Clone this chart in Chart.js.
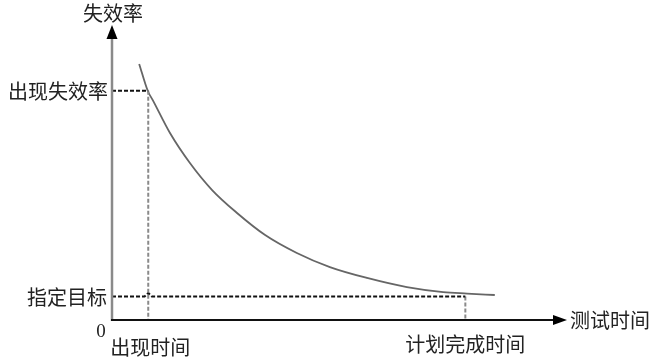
<!DOCTYPE html>
<html>
<head>
<meta charset="utf-8">
<script src="https://cdn.jsdelivr.net/npm/chart.js@4/dist/chart.umd.min.js"></script>
<style>
  html, body { margin: 0; padding: 0; background: #fff; }
  #wrap { width: 659px; height: 361px; position: relative; }
</style>
</head>
<body>
<div id="wrap"><canvas id="chart"></canvas></div>
<script>
// failure rate curve (time / rate in arbitrary units, axis runs 0-100)
const curveTime = [6.0, 7.9, 9.0, 12.8, 17.2, 22.1, 27.6, 33.8, 40.8, 48.1, 56.3, 65.1, 73.1, 78.4, 84.5];
const curveRate = [87.1, 77.9, 74.8, 63.6, 53.4, 44.2, 36.4, 28.9, 22.8, 18.0, 14.3, 11.2, 9.5, 9.0, 8.5];

// marker values
const appearTime = 8;     // 出现时间
const appearRate = 78;    // 出现失效率
const planTime = 78;      // 计划完成时间
const targetRate = 8;     // 指定目标

// target line with the little bump where it crosses the appear-time guide
const targetLineTime = [0, 7.2, 8, 8.8, planTime];
const targetLineRate = [targetRate, targetRate, 9.2, targetRate, targetRate];

const axisMax = 100;

const cjk = '"Noto Sans CJK SC", sans-serif';

function pts(xs, ys) {
    return xs.map((x, i) => ({ x: x, y: ys[i] }));
}

// axes with arrows + all the text labels
const axesPlugin = {
    id: 'axesPlugin',
    afterDatasetsDraw(chart) {
        const ctx = chart.ctx;
        const xs = chart.scales.x;
        const ys = chart.scales.y;
        const x0 = xs.getPixelForValue(0);
        const y0 = ys.getPixelForValue(0);
        const xEnd = xs.getPixelForValue(axisMax);
        const yEnd = ys.getPixelForValue(axisMax);

        ctx.save();
        // y axis (grey)
        ctx.strokeStyle = '#8a8a8a';
        ctx.lineWidth = 2.5;
        ctx.beginPath();
        ctx.moveTo(x0, y0 + 1);
        ctx.lineTo(x0, yEnd + 12);
        ctx.stroke();
        ctx.fillStyle = '#000';
        ctx.beginPath();
        ctx.moveTo(x0, yEnd - 1);
        ctx.lineTo(x0 - 5.5, yEnd + 13);
        ctx.lineTo(x0 + 5.5, yEnd + 13);
        ctx.closePath();
        ctx.fill();

        // x axis (black)
        ctx.strokeStyle = '#111';
        ctx.lineWidth = 2;
        ctx.beginPath();
        ctx.moveTo(x0 - 1, y0);
        ctx.lineTo(xEnd - 10, y0);
        ctx.stroke();
        ctx.beginPath();
        ctx.moveTo(xEnd + 2, y0);
        ctx.lineTo(xEnd - 12, y0 - 5);
        ctx.lineTo(xEnd - 12, y0 + 5);
        ctx.closePath();
        ctx.fill();

        // labels
        ctx.fillStyle = '#222';
        ctx.font = '20px ' + cjk;
        ctx.textBaseline = 'middle';

        ctx.textAlign = 'center';
        ctx.fillText('失效率', x0 + 1, 13);
        ctx.fillText('出现时间', xs.getPixelForValue(appearTime) + 2, y0 + 27);
        ctx.fillText('计划完成时间', xs.getPixelForValue(planTime), y0 + 24);

        ctx.textAlign = 'right';
        ctx.fillText('出现失效率', x0 - 4, ys.getPixelForValue(appearRate) + 1);
        ctx.fillText('指定目标', x0 - 5, ys.getPixelForValue(targetRate) + 1);

        ctx.textAlign = 'left';
        ctx.fillText('测试时间', xEnd + 5, y0);

        ctx.font = '19px "Liberation Serif", serif';
        ctx.textAlign = 'center';
        ctx.fillText('0', x0 - 11, y0 + 12);
        ctx.restore();
    }
};

const ctxEl = document.getElementById('chart');

new Chart(ctxEl, {
    type: 'scatter',
    data: {
        datasets: [
            {
                // 出现失效率 horizontal guide
                data: pts([0, appearTime], [appearRate, appearRate]),
                showLine: true,
                borderColor: '#111',
                borderWidth: 2,
                borderDash: [4, 2],
                pointRadius: 0
            },
            {
                // 出现时间 vertical guide
                data: pts([appearTime, appearTime], [appearRate, 0]),
                showLine: true,
                borderColor: '#8a8a8a',
                borderWidth: 2,
                borderDash: [4, 2],
                pointRadius: 0
            },
            {
                // 指定目标 horizontal guide
                data: pts(targetLineTime, targetLineRate),
                showLine: true,
                borderColor: '#111',
                borderWidth: 2,
                borderDash: [4, 2],
                pointRadius: 0
            },
            {
                // 计划完成时间 vertical guide
                data: pts([planTime, planTime], [targetRate, 0]),
                showLine: true,
                borderColor: '#8a8a8a',
                borderWidth: 2,
                borderDash: [4, 2],
                pointRadius: 0
            },
            {
                // failure rate curve
                data: pts(curveTime, curveRate),
                showLine: true,
                borderColor: '#666',
                borderWidth: 1.8,
                tension: 0.4,
                cubicInterpolationMode: 'monotone',
                pointRadius: 0
            }
        ]
    },
    options: {
        responsive: true,
        maintainAspectRatio: false,
        animation: false,
        layout: {
            padding: { left: 112, right: 94, top: 26, bottom: 41 }
        },
        plugins: {
            legend: { display: false },
            tooltip: { enabled: false }
        },
        scales: {
            x: { type: 'linear', min: 0, max: axisMax, display: false },
            y: { type: 'linear', min: 0, max: axisMax, display: false }
        }
    },
    plugins: [axesPlugin]
});
</script>
</body>
</html>
